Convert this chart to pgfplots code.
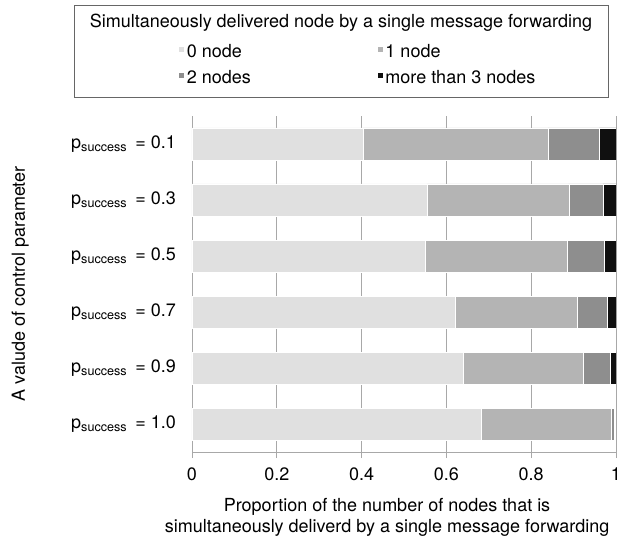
\documentclass[border=0pt]{standalone}
\usepackage{pgfplots}
\pgfplotsset{compat=1.18}
\usepackage{fontspec}
\setmainfont{TeX Gyre Heros}
\definecolor{c0}{HTML}{E0E0E0}
\definecolor{c1}{HTML}{B4B4B4}
\definecolor{c2}{HTML}{8E8E8E}
\definecolor{c3}{HTML}{101010}
\definecolor{axgray}{HTML}{A8A8A8}
\begin{document}
\fontsize{18}{22}\selectfont
\begin{tikzpicture}
\useasboundingbox (-192pt,-89pt) rectangle (442pt,452pt);
\begin{axis}[
  at={(0,0)}, anchor=south west,
  scale only axis, width=424pt, height=336pt,
  xbar stacked, bar width=32pt,
  xmin=0, xmax=1, ymin=-0.5, ymax=5.5,
  axis x line*=bottom, axis y line*=left,
  axis line style={axgray, line width=0.8pt},
  xtick={0,0.2,0.4,0.6,0.8,1},
  xticklabels={0,0.2,0.4,0.6,0.8,1},
  xmajorgrids, major grid style={axgray, line width=0.8pt},
  x tick style={axgray, line width=0.8pt}, major tick length=6pt,
  tick align=outside,
  ytick={0,1,2,3,4,5},
  yticklabels={p\textsubscript{success} \,= 1.0, p\textsubscript{success} \,= 0.9, p\textsubscript{success} \,= 0.7, p\textsubscript{success} \,= 0.5, p\textsubscript{success} \,= 0.3, p\textsubscript{success} \,= 0.1},
  y tick style={draw=none},
  minor ytick={-0.5,0.5,1.5,2.5,3.5,4.5},
  minor y tick style={axgray, line width=0.8pt}, minor tick length=5pt,
  /pgf/number format/assume math mode=true,
  ticklabel style={font=\fontsize{18}{22}\selectfont},
  yticklabel style={xshift=-4pt},
  xticklabel style={yshift=-4pt},
  ylabel={A valude of control parameter},
  ylabel style={at={(axis description cs:-0.405,0.5)}, anchor=center, font=\fontsize{18}{22}\selectfont},
  xlabel={Proportion of the number of nodes that is\\simultaneously deliverd by a single message forwarding},
  xlabel style={align=center, at={(axis description cs:0.46,-0.196)}, anchor=center, font=\fontsize{18}{21}\selectfont},
  legend columns=2,
  legend style={at={(axis description cs:-0.04,1.225)}, anchor=north west, draw=none, fill=none,
    font=\fontsize{18}{22}\selectfont, cells={anchor=west},
    /tikz/every even column/.append style={column sep=124pt}, row sep=6pt},
  legend image code/.code={\fill[#1] (-2pt,0pt) rectangle (4pt,6pt);},
]
\addplot[fill=c0, draw=white, line width=0.6pt] coordinates {(0.683,0) (0.641,1) (0.621,2) (0.550,3) (0.554,4) (0.403,5)};
\addplot[fill=c1, draw=white, line width=0.6pt] coordinates {(0.306,0) (0.281,1) (0.288,2) (0.334,3) (0.335,4) (0.437,5)};
\addplot[fill=c2, draw=white, line width=0.6pt] coordinates {(0.008,0) (0.065,1) (0.071,2) (0.088,3) (0.080,4) (0.121,5)};
\addplot[fill=c3, draw=white, line width=0.6pt] coordinates {(0.002,0) (0.013,1) (0.020,2) (0.028,3) (0.031,4) (0.039,5)};
\legend{0 node, 1 node, 2 nodes, more than 3 nodes}
\end{axis}
\draw[gray!80!black, line width=0.8pt] (-118pt,355pt) rectangle (416pt,447pt);
\node[font=\fontsize{18}{22}\selectfont] at (149pt,429pt) {Simultaneously delivered node by a single message forwarding};
\end{tikzpicture}
\end{document}
